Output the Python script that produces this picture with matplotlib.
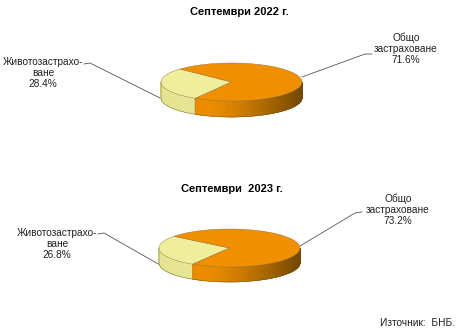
import numpy as np
import matplotlib
matplotlib.use('Agg')
import matplotlib.pyplot as plt

plt.rcParams['font.family'] = ['Liberation Sans', 'DejaVu Sans']

# ---- data ----
categories = ['Животозастраховане', 'Общо застраховане']
share_2022 = [28.4, 71.6]
share_2023 = [26.8, 73.2]
titles = ['Септември 2022 г.', 'Септември  2023 г.']
left_labels = ['Животозастрахо-\nване\n28.4%', 'Животозастрахо-\nване\n26.8%']
right_labels = ['Общо\nзастраховане\n71.6%', 'Общо\nзастраховане\n73.2%']
source = 'Източник:  БНБ.'

top_colors = ['#EEEE9C', '#F09000']


def lerp(c0, c1, f):
    return tuple(a + (b - a) * f for a, b in zip(c0, c1))


def side_color(i, frac):
    if i == 0:
        return lerp((0.89, 0.89, 0.57), (0.93, 0.93, 0.63), frac)
    f = np.clip((frac - 0.35) / 0.65, 0, 1) ** 1.3
    return lerp((0.92, 0.55, 0.0), (0.45, 0.28, 0.0), f)


def pie3d(ax, cx, cy, rx, ry, depth, values, start):
    vals = np.asarray(values, dtype=float)
    edges = start + 360 * np.concatenate([[0], np.cumsum(vals / vals.sum())])
    # side walls
    for i in range(len(vals)):
        a0, a1 = edges[i], edges[i + 1]
        ts = np.linspace(a0, a1, int(abs(a1 - a0)) * 2 + 2)
        for j in range(len(ts) - 1):
            tm = ((ts[j] + ts[j + 1]) / 2) % 360
            if not (180 <= tm <= 360):
                continue
            t0, t1 = np.radians(ts[j]), np.radians(ts[j + 1])
            x0, x1 = cx + rx * np.cos(t0), cx + rx * np.cos(t1)
            y0, y1 = cy - ry * np.sin(t0), cy - ry * np.sin(t1)
            frac = ((x0 + x1) / 2 - (cx - rx)) / (2 * rx)
            c = side_color(i, frac)
            ax.fill([x0, x1, x1, x0], [y0, y1, y1 + depth, y0 + depth],
                    fc=c, ec=c, lw=0.4, zorder=2)
    # bottom outline of side
    tb = np.radians(np.linspace(180, 360, 200))
    ax.plot(cx + rx * np.cos(tb), cy - ry * np.sin(tb) + depth,
            color='#6a5020', lw=0.3, zorder=3)
    for xe in (cx - rx, cx + rx):
        ax.plot([xe, xe], [cy, cy + depth], color='#6a5020', lw=0.3, zorder=3)
    # boundary lines on side between slices
    for a in edges:
        am = a % 360
        if 180 < am < 360:
            x = cx + rx * np.cos(np.radians(a))
            y = cy - ry * np.sin(np.radians(a))
            ax.plot([x, x], [y, y + depth], color='#8a7040', lw=0.3, zorder=3)
    # top surfaces
    for i in range(len(vals)):
        ts = np.radians(np.linspace(edges[i], edges[i + 1], 200))
        xs = np.concatenate([[cx], cx + rx * np.cos(ts), [cx]])
        ys = np.concatenate([[cy], cy - ry * np.sin(ts), [cy]])
        ax.fill(xs, ys, fc=top_colors[i], ec='#8a7040', lw=0.3, zorder=4)


fig = plt.figure(figsize=(4.59, 3.32), dpi=100)
ax = fig.add_axes([0, 0, 1, 1])
ax.set_xlim(0, 459)
ax.set_ylim(332, 0)
ax.axis('off')

# chart 1
ax.text(239, 12, titles[0], ha='center', va='center', fontsize=8, fontweight='bold')
pie3d(ax, 231.5, 82, 70.5, 19, 16, share_2022, 137)
ax.text(43, 73, left_labels[0], ha='center', va='center', fontsize=7.3, color='#222222', linespacing=1.1)
ax.text(406, 49, right_labels[0], ha='center', va='center', fontsize=7.3, color='#222222', linespacing=1.1)
ax.plot([84, 90, 162], [64, 63, 99], color='#555555', lw=0.6, zorder=1)
ax.plot([302, 365, 372], [77, 54, 54], color='#555555', lw=0.6, zorder=1)

# chart 2
ax.text(232, 189, titles[1], ha='center', va='center', fontsize=8, fontweight='bold')
pie3d(ax, 229.5, 248, 70.5, 19, 15, share_2023, 142)
ax.text(57, 244, left_labels[1], ha='center', va='center', fontsize=7.3, color='#222222', linespacing=1.1)
ax.text(398, 210, right_labels[1], ha='center', va='center', fontsize=7.3, color='#222222', linespacing=1.1)
ax.plot([98, 104, 160], [234, 233, 265], color='#555555', lw=0.6, zorder=1)
ax.plot([300, 355, 362], [246, 213, 212], color='#555555', lw=0.6, zorder=1)

ax.text(455, 323, source, ha='right', va='center', fontsize=7.3, color='#222222')

fig.savefig('out.png', dpi=100)
